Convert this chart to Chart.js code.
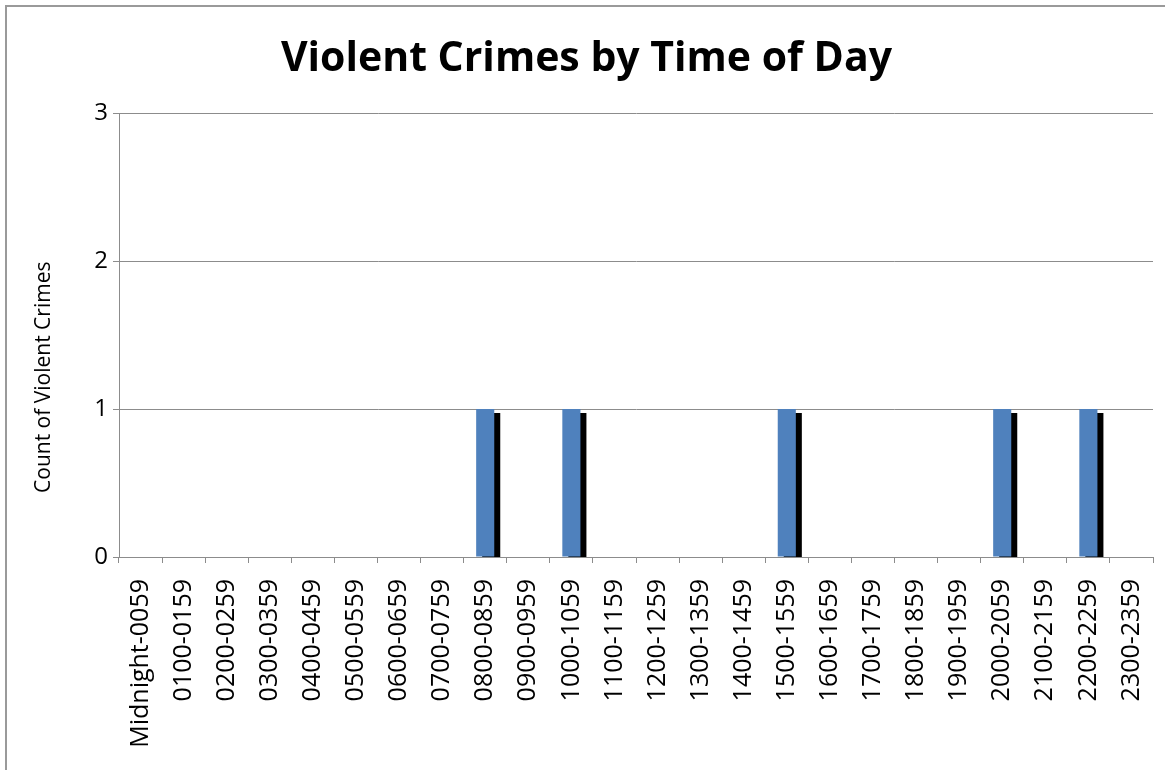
<!DOCTYPE html>
<html>
<head>
<meta charset="utf-8">
<title>Violent Crimes by Time of Day</title>
<script src="https://cdn.jsdelivr.net/npm/chart.js@4/dist/chart.umd.min.js"></script>
<style>
    html, body { margin: 0; padding: 0; background: #ffffff; overflow: hidden; }
    #wrap { position: relative; width: 1165px; height: 770px; }
</style>
</head>
<body>
<div id="wrap"><canvas id="crimeChart"></canvas></div>
<script>
/*==================================================
DATA
==================================================*/

const timeSlots = [
    "Midnight-0059", "0100-0159", "0200-0259", "0300-0359",
    "0400-0459", "0500-0559", "0600-0659", "0700-0759",
    "0800-0859", "0900-0959", "1000-1059", "1100-1159",
    "1200-1259", "1300-1359", "1400-1459", "1500-1559",
    "1600-1659", "1700-1759", "1800-1859", "1900-1959",
    "2000-2059", "2100-2159", "2200-2259", "2300-2359"
];

const crimeCounts = [
    0, 0, 0, 0, 0, 0, 0, 0,
    1, 0, 1, 0, 0, 0, 0, 1,
    0, 0, 0, 0, 1, 0, 1, 0
];

const yTicks = [0, 1, 2, 3];

const chartTitle = "Violent Crimes by Time of Day";
const yAxisTitle = "Count of Violent Crimes";

/*==================================================
PLUGINS
==================================================*/

// outer chart frame, like the spreadsheet chart border
const framePlugin = {
    id: "frame",
    beforeDraw(chart) {
        const ctx = chart.ctx;
        ctx.save();
        ctx.fillStyle = "#ffffff";
        ctx.fillRect(0, 0, chart.width, chart.height);
        ctx.strokeStyle = "#9a9a9a";
        ctx.lineWidth = 2;
        ctx.beginPath();
        ctx.moveTo(6, chart.height + 5);
        ctx.lineTo(6, 6);
        ctx.lineTo(chart.width + 5, 6);
        ctx.stroke();
        ctx.restore();
    }
};

// hard black drop shadow behind the bars
const shadowPlugin = {
    id: "barShadow",
    beforeDatasetsDraw(chart) {
        const ctx = chart.ctx;
        ctx.save();
        ctx.shadowColor = "#000000";
        ctx.shadowBlur = 0;
        ctx.shadowOffsetX = 6;
        ctx.shadowOffsetY = 4;
    },
    afterDatasetsDraw(chart) {
        chart.ctx.restore();
    }
};

// y axis title sits a bit below the middle of the axis, as in the original
const yTitlePlugin = {
    id: "yTitle",
    afterDraw(chart) {
        const ctx = chart.ctx;
        const area = chart.chartArea;
        ctx.save();
        ctx.translate(44, area.top + (area.bottom - area.top) * 0.595);
        ctx.rotate(-Math.PI / 2);
        ctx.fillStyle = "#000000";
        ctx.font = "21px 'Open Sans', sans-serif";
        ctx.textAlign = "center";
        ctx.textBaseline = "middle";
        ctx.fillText(yAxisTitle, 0, 0);
        ctx.restore();
    }
};

/*==================================================
CHART
==================================================*/

const gridGray = "#8c8c8c";

new Chart(document.getElementById("crimeChart"), {

    type: "bar",

    data: {
        labels: timeSlots,
        datasets: [{
            label: "Count",
            data: crimeCounts,
            backgroundColor: "#4f81bd",
            borderWidth: 0,
            categoryPercentage: 1,
            barPercentage: 0.42
        }]
    },

    options: {
        responsive: true,
        maintainAspectRatio: false,
        animation: false,
        layout: {
            padding: { left: 20, right: 12, top: 0, bottom: 0 }
        },
        plugins: {
            legend: { display: false },
            tooltip: { enabled: false },
            title: {
                display: true,
                text: chartTitle,
                color: "#000000",
                font: { family: "'Open Sans', sans-serif", size: 41, weight: "bold" },
                padding: { top: 35, bottom: 29 }
            }
        },
        scales: {
            x: {
                offset: true,
                grid: {
                    display: true,
                    drawOnChartArea: false,
                    drawTicks: true,
                    tickLength: 6,
                    color: gridGray,
                    offset: true
                },
                border: { color: gridGray, width: 1 },
                ticks: {
                    autoSkip: false,
                    minRotation: 90,
                    maxRotation: 90,
                    padding: 16,
                    color: "#000000",
                    font: { family: "'Open Sans', sans-serif", size: 25 }
                },
                afterFit(scale) {
                    scale.height = 213;
                    scale.paddingLeft = 0;
                    scale.paddingRight = 0;
                }
            },
            y: {
                min: yTicks[0],
                max: yTicks[yTicks.length - 1],
                afterBuildTicks(scale) {
                    scale.ticks = yTicks.map(v => ({ value: v }));
                },
                grid: {
                    color: gridGray,
                    tickLength: 6
                },
                border: { color: gridGray, width: 1 },
                ticks: {
                    padding: 5,
                    color: "#000000",
                    font: { family: "'Open Sans', sans-serif", size: 24 }
                },
                afterFit(scale) {
                    scale.width = 99;
                    scale.paddingTop = 0;
                    scale.paddingBottom = 0;
                }
            }
        }
    },

    plugins: [framePlugin, shadowPlugin, yTitlePlugin]

});
</script>
</body>
</html>
